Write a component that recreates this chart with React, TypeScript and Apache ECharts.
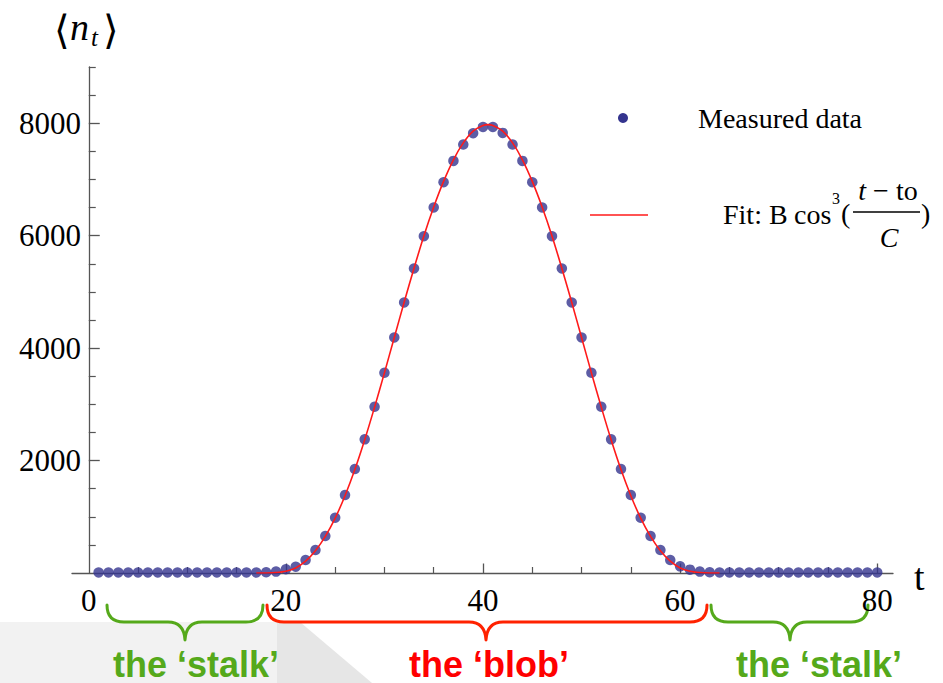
import React, { useEffect, useRef } from 'react';
import * as echarts from 'echarts';

// ---- data ----
const tValues = [
  1, 2, 3, 4, 5, 6, 7, 8, 9, 10, 11, 12, 13, 14, 15, 16, 17, 18, 19, 20,
  21, 22, 23, 24, 25, 26, 27, 28, 29, 30, 31, 32, 33, 34, 35, 36, 37, 38, 39, 40,
  41, 42, 43, 44, 45, 46, 47, 48, 49, 50, 51, 52, 53, 54, 55, 56, 57, 58, 59, 60,
  61, 62, 63, 64, 65, 66, 67, 68, 69, 70, 71, 72, 73, 74, 75, 76, 77, 78, 79, 80,
];
const measured = [
  10, 10, 10, 10, 10, 10, 10, 10, 10, 10, 10, 10, 10, 10, 10, 10, 10, 12, 25, 66,
  112, 231, 409, 658, 983, 1387, 1849, 2377, 2957, 3561, 4190, 4812, 5417, 5991, 6501, 6951, 7330, 7621, 7822, 7934,
  7934, 7828, 7621, 7330, 6951, 6501, 5991, 5417, 4812, 4190, 3561, 2957, 2377, 1849, 1387, 983, 658, 409, 231, 118,
  60, 25, 12, 10, 10, 10, 10, 10, 10, 10, 10, 10, 10, 10, 10, 10, 10, 10, 10, 10,
];
const fitT = [
  17, 18, 19, 20, 21, 22, 23, 24, 25, 26, 27, 28, 29, 30, 31, 32, 33, 34, 35, 36, 37, 38, 39, 40,
  40.5,
  41, 42, 43, 44, 45, 46, 47, 48, 49, 50, 51, 52, 53, 54, 55, 56, 57, 58, 59, 60, 61, 62, 63, 64,
];
const fitValues = [
  0, 1, 8, 30, 90, 210, 395, 650, 975, 1375, 1840, 2370, 2950, 3560, 4190, 4815, 5420, 5995, 6510, 6965, 7350, 7650, 7860, 7960,
  7975,
  7960, 7860, 7650, 7350, 6965, 6510, 5995, 5420, 4815, 4190, 3560, 2950, 2370, 1840, 1375, 975, 650, 395, 210, 90, 30, 8, 1, 0,
];
const xLabelValues = [0, 20, 40, 60, 80];
const xMinorTicks = [5, 10, 15, 25, 30, 35, 45, 50, 55, 65, 70, 75];
const xMajorTicks = [20, 40, 60, 80];
const yLabelValues = [2000, 4000, 6000, 8000];
const yMinorTicks = [500, 1000, 1500, 2500, 3000, 3500, 4500, 5000, 5500, 6500, 7000, 7500, 8500, 9000];
const yMajorTicks = [2000, 4000, 6000, 8000];

const SERIF = '"Liberation Serif", "Times New Roman", serif';
const SANS = '"Liberation Sans", Arial, sans-serif';
const AXIS = '#555555';
const DOT = '#34348e';
const FIT = '#ff1a1a';
const GREEN = '#55a91b';
const RED = '#ff2200';

const bracePaths: Record<string, string> = {
  braceStalkL: 'M107,605 Q107,622 124,622 L168,622 Q184,622 185,640 Q186,622 202,622 L246,622 Q263,622 263,605',
  braceBlob: 'M267,605 Q267,622 284,622 L469,622 Q485,622 486,640 Q487,622 503,622 L690,622 Q707,622 707,605',
  braceStalkR: 'M711,605 Q711,622 728,622 L773,622 Q789,622 790,640 Q791,622 807,622 L851,622 Q868,622 868,605',
};

const legText = (x: number, y: number, text: string, extra: any = {}) => ({
  type: 'text', x, y,
  style: { text, fontFamily: SERIF, fontSize: 28, fill: '#000', align: 'left', verticalAlign: 'middle', ...extra },
});

export default function App() {
  const ref = useRef<HTMLDivElement>(null);
  useEffect(() => {
    Object.keys(bracePaths).forEach((k) => {
      echarts.graphic.registerShape(k, echarts.graphic.extendPath(bracePaths[k], {}) as any);
    });
    const chart = echarts.init(ref.current!, null, { renderer: 'svg' });
    const xMin = -1.7;
    const xMax = 81.6;
    const plain = (v: number) => String(v);
    const option: any = {
      animation: false,
      backgroundColor: '#ffffff',
      grid: { left: 72, right: 50, top: 67, bottom: 110, containLabel: false, outerBoundsMode: 'none' },
      xAxis: [
        {
          type: 'value', min: xMin, max: xMax,
          axisLine: { show: true, onZero: true, lineStyle: { color: AXIS, width: 1.3 } },
          splitLine: { show: false },
          axisTick: { show: true, inside: true, length: 6, customValues: xMinorTicks, lineStyle: { color: AXIS, width: 1.2 } },
          axisLabel: { show: true, customValues: xLabelValues, formatter: plain, fontFamily: SERIF, fontSize: 31, color: '#000', margin: 12 },
        },
        {
          type: 'value', min: xMin, max: xMax, position: 'bottom',
          axisLine: { show: false, onZero: true },
          splitLine: { show: false },
          axisTick: { show: true, inside: true, length: 9.5, customValues: xMajorTicks, lineStyle: { color: AXIS, width: 1.3 } },
          axisLabel: { show: false },
        },
      ],
      yAxis: [
        {
          type: 'value', min: 0, max: 9000, position: 'left',
          axisLine: { show: true, onZero: true, lineStyle: { color: AXIS, width: 1.3 } },
          splitLine: { show: false },
          axisTick: { show: true, inside: true, length: 7, customValues: yMinorTicks, lineStyle: { color: AXIS, width: 1.2 } },
          axisLabel: { show: true, customValues: yLabelValues, formatter: plain, fontFamily: SERIF, fontSize: 31, color: '#000', margin: -9 },
        },
        {
          type: 'value', min: 0, max: 9000, position: 'left',
          axisLine: { show: false, onZero: true },
          splitLine: { show: false },
          axisTick: { show: true, inside: true, length: 11, customValues: yMajorTicks, lineStyle: { color: AXIS, width: 1.3 } },
          axisLabel: { show: false },
        },
      ],
      series: [
        {
          name: 'Measured data',
          type: 'scatter',
          xAxisIndex: 0, yAxisIndex: 0,
          symbol: 'circle', symbolSize: 10.5,
          itemStyle: { color: DOT },
          data: tValues.map((t, i) => [t, measured[i]]),
          z: 2,
        },
        {
          name: 'Fit',
          type: 'line',
          xAxisIndex: 0, yAxisIndex: 0,
          smooth: 0.3,
          showSymbol: false,
          lineStyle: { color: FIT, width: 1.6 },
          data: fitT.map((t, i) => [t, fitValues[i]]),
          z: 3,
        },
      ],
      graphic: [
        // slide background remnants
        { type: 'rect', z: -10, shape: { x: 0, y: 622, width: 277, height: 61 }, style: { fill: '#f2f2f2' } },
        { type: 'polygon', z: -10, shape: { points: [[277, 622], [300, 622], [372, 683], [277, 683]] }, style: { fill: '#e6e6e6' } },
        // y-axis title <n_t>
        { type: 'text', x: 54, y: 30, style: { text: '⟨', fontFamily: '"DejaVu Serif", serif', fontSize: 40, fill: '#000', align: 'left', verticalAlign: 'middle' } },
        { type: 'text', x: 70, y: 27, style: { text: 'n', fontFamily: SERIF, fontStyle: 'italic', fontSize: 38, fill: '#000', align: 'left', verticalAlign: 'middle' } },
        { type: 'text', x: 91, y: 37, style: { text: 't', fontFamily: SERIF, fontStyle: 'italic', fontSize: 25, fill: '#000', align: 'left', verticalAlign: 'middle' } },
        { type: 'text', x: 103, y: 30, style: { text: '⟩', fontFamily: '"DejaVu Serif", serif', fontSize: 40, fill: '#000', align: 'left', verticalAlign: 'middle' } },
        // x-axis title
        { type: 'text', x: 914, y: 577, style: { text: 't', fontFamily: SERIF, fontSize: 38, fill: '#000', align: 'left', verticalAlign: 'middle' } },
        // legend
        { type: 'circle', shape: { cx: 623, cy: 118, r: 5 }, style: { fill: DOT } },
        legText(698, 118, 'Measured data'),
        { type: 'line', shape: { x1: 590, y1: 215, x2: 648, y2: 215 }, style: { stroke: FIT, lineWidth: 1.3 } },
        legText(723, 214, 'Fit:'),
        legText(769, 214, 'B'),
        legText(794, 214, 'cos'),
        legText(832, 198, '3', { fontSize: 16 }),
        legText(841, 213, '('),
        {
          type: 'text', x: 888, y: 190,
          style: {
            text: '{i|t} − to', fontFamily: SERIF, fontSize: 28, fill: '#000', align: 'center', verticalAlign: 'middle',
            rich: { i: { fontFamily: SERIF, fontStyle: 'italic', fontSize: 28, fill: '#000' } },
          },
        },
        { type: 'line', shape: { x1: 853, y1: 212, x2: 920, y2: 212 }, style: { stroke: '#000', lineWidth: 1.3 } },
        { type: 'text', x: 889, y: 237, style: { text: 'C', fontFamily: SERIF, fontStyle: 'italic', fontSize: 28, fill: '#000', align: 'center', verticalAlign: 'middle' } },
        legText(921, 213, ')'),
        // braces
        { type: 'braceStalkL', x: 0, y: 0, style: { fill: 'none', stroke: GREEN, lineWidth: 3, lineCap: 'round', lineJoin: 'round' } },
        { type: 'braceBlob', x: 0, y: 0, style: { fill: 'none', stroke: RED, lineWidth: 3, lineCap: 'round', lineJoin: 'round' } },
        { type: 'braceStalkR', x: 0, y: 0, style: { fill: 'none', stroke: GREEN, lineWidth: 3, lineCap: 'round', lineJoin: 'round' } },
        // annotations
        { type: 'text', x: 196, y: 664, style: { text: 'the ‘stalk’', fontFamily: SANS, fontWeight: 'bold', fontSize: 36, fill: GREEN, align: 'center', verticalAlign: 'middle' } },
        { type: 'text', x: 489, y: 664, style: { text: 'the ‘blob’', fontFamily: SANS, fontWeight: 'bold', fontSize: 36, fill: '#ff0000', align: 'center', verticalAlign: 'middle' } },
        { type: 'text', x: 819, y: 664, style: { text: 'the ‘stalk’', fontFamily: SANS, fontWeight: 'bold', fontSize: 36, fill: GREEN, align: 'center', verticalAlign: 'middle' } },
      ],
    };
    chart.setOption(option);
    return () => chart.dispose();
  }, []);
  return (
    <div
      ref={ref}
      style={{ position: 'fixed', left: 0, top: 0, width: 943, height: 683, background: '#fff' }}
    />
  );
}
